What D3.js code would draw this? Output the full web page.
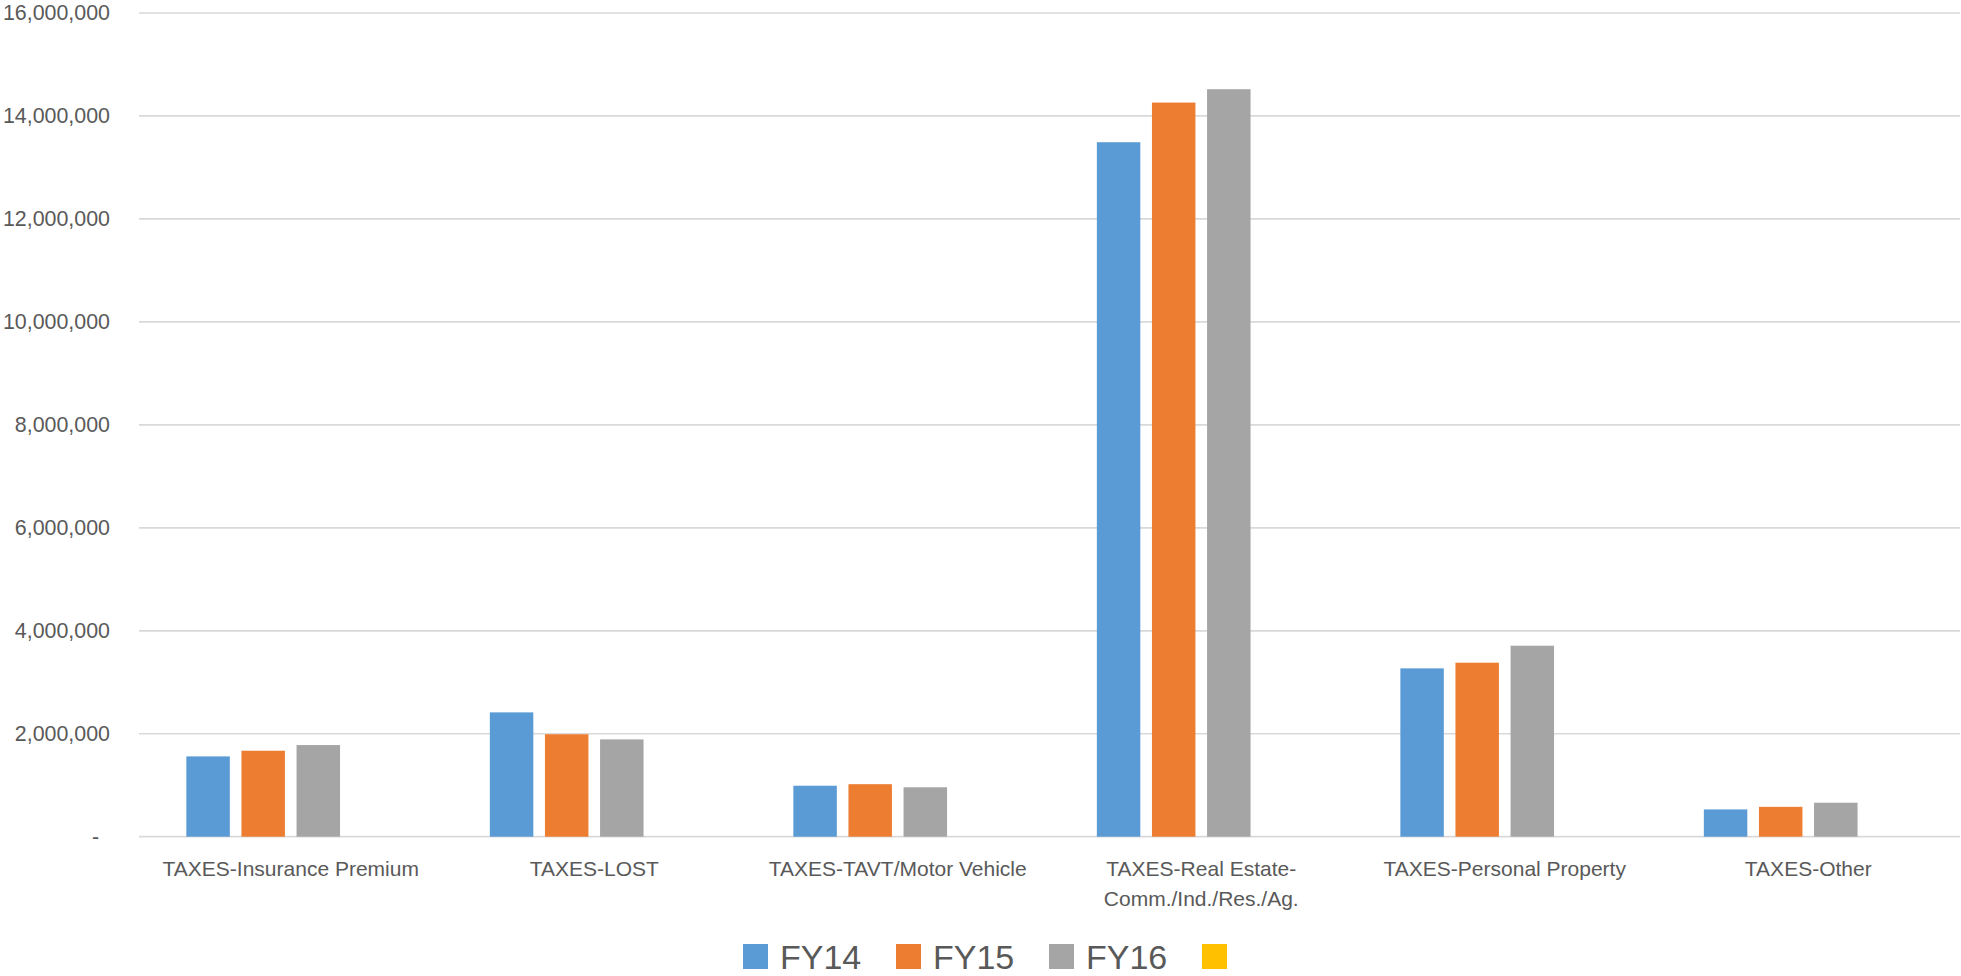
<!DOCTYPE html>
<html>
<head>
<meta charset="utf-8">
<script src="https://cdn.jsdelivr.net/npm/d3@7"></script>
<style>
  html, body { margin: 0; padding: 0; background: #fff; }
  svg { display: block; font-family: "Liberation Sans", Arial, sans-serif; }
</style>
</head>
<body>
<svg id="chart" width="1961" height="976"></svg>
<script>
// chart data
const categories = [
  "TAXES-Insurance Premium",
  "TAXES-LOST",
  "TAXES-TAVT/Motor Vehicle",
  "TAXES-Real Estate-Comm./Ind./Res./Ag.",
  "TAXES-Personal Property",
  "TAXES-Other"
];
const seriesNames = ["FY14", "FY15", "FY16", ""];
const fy14 = [1560000, 2415000, 990000, 13490000, 3270000, 530000];
const fy15 = [1670000, 1990000, 1020000, 14260000, 3380000, 580000];
const fy16 = [1780000, 1890000, 960000, 14520000, 3710000, 660000];
const fy17 = [null, null, null, null, null, null]; // empty series, only in legend
const yTicks = [0, 2000000, 4000000, 6000000, 8000000, 10000000, 12000000, 14000000, 16000000];
const colors = ["#5B9BD5", "#ED7D31", "#A5A5A5", "#FFC000"];

(() => {
  const seriesValues = [fy14, fy15, fy16, fy17];

  const svg = d3.select("#chart");
  const plotL = 139, plotR = 1960, plotT = 13, plotB = 836.7;
  const textColor = "#595959";
  const gridColor = "#D9D9D9";

  const y = d3.scaleLinear().domain([0, 16000000]).range([plotB, plotT]);
  const x0 = d3.scaleBand().domain(categories).range([plotL, plotR]).padding(0);
  const outer = x0.bandwidth() * 0.156;
  const x1 = d3.scaleBand().domain(d3.range(seriesNames.length))
    .range([outer, x0.bandwidth() - outer]).paddingInner(0.211).paddingOuter(0);

  // gridlines
  svg.append("g").selectAll("line")
    .data(yTicks)
    .join("line")
    .attr("x1", plotL).attr("x2", plotR)
    .attr("y1", d => y(d)).attr("y2", d => y(d))
    .attr("stroke", gridColor)
    .attr("stroke-width", 1.7);

  // y axis labels (accounting style, zero shown as dash)
  const fmt = d3.format(",");
  svg.append("g").selectAll("text")
    .data(yTicks)
    .join("text")
    .attr("x", d => d === 0 ? 99 : 110)
    .attr("y", d => y(d))
    .attr("dy", "0.35em")
    .attr("text-anchor", "end")
    .attr("font-size", 21.4)
    .attr("fill", textColor)
    .text(d => d === 0 ? "-" : fmt(d));

  // bars
  const rows = categories.map((c, i) => ({ cat: c, vals: seriesValues.map(s => s[i]) }));
  const groups = svg.append("g").selectAll("g")
    .data(rows)
    .join("g")
    .attr("transform", d => `translate(${x0(d.cat)},0)`);

  groups.selectAll("rect")
    .data(d => d.vals.map((v, k) => ({ k, v })).filter(e => e.v != null))
    .join("rect")
    .attr("x", d => x1(d.k))
    .attr("width", x1.bandwidth())
    .attr("y", d => y(d.v))
    .attr("height", d => y(0) - y(d.v))
    .attr("fill", d => colors[d.k]);

  // category labels, wrapped to the band width
  const labelG = svg.append("g");
  categories.forEach(c => {
    const cx = x0(c) + x0.bandwidth() / 2;
    const t = labelG.append("text")
      .attr("x", cx)
      .attr("y", 876)
      .attr("text-anchor", "middle")
      .attr("font-size", 21)
      .attr("fill", textColor);
    const tokens = c.match(/[^\s-]+[\s-]*/g);
    const maxW = x0.bandwidth() - 20;
    let lines = [], cur = "";
    const probe = t.append("tspan");
    tokens.forEach(tok => {
      probe.text(cur + tok);
      if (cur && probe.node().getComputedTextLength() > maxW) {
        lines.push(cur);
        cur = tok;
      } else {
        cur += tok;
      }
    });
    lines.push(cur);
    probe.remove();
    lines.forEach((ln, i) => {
      t.append("tspan")
        .attr("x", cx)
        .attr("dy", i === 0 ? 0 : 30)
        .text(ln.trim());
    });
  });

  // legend
  const itemStep = 153;
  const legendX = 743;
  const legend = svg.append("g").selectAll("g")
    .data(seriesNames)
    .join("g")
    .attr("transform", (d, i) => `translate(${legendX + i * itemStep},944)`);

  legend.append("rect")
    .attr("width", 25).attr("height", 25)
    .attr("fill", (d, i) => colors[i]);

  legend.append("text")
    .attr("x", 37)
    .attr("y", 24.5)
    .attr("font-size", 34)
    .attr("fill", textColor)
    .text(d => d);
})();
</script>
</body>
</html>
